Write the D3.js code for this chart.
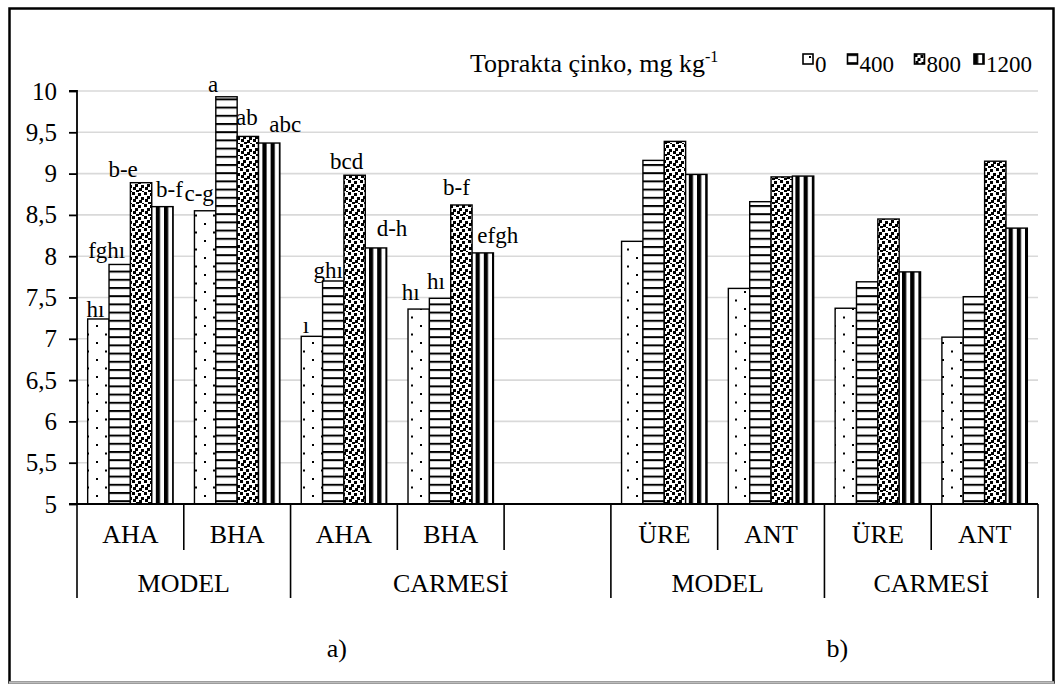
<!DOCTYPE html>
<html>
<head>
<meta charset="utf-8">
<script src="https://cdn.jsdelivr.net/npm/d3@7"></script>
<style>
  html, body { margin: 0; padding: 0; background: #fff; }
  svg { display: block; }
  text { font-family: "Liberation Serif", "Times New Roman", serif; fill: #000; }
</style>
</head>
<body>
<svg id="chart" width="1062" height="686"></svg>
<script>
// ---------- DATA ----------
const categories = ["AHA", "BHA", "AHA", "BHA", "", "ÜRE", "ANT", "ÜRE", "ANT"];
const groupLabels = ["MODEL", "CARMESİ", "MODEL", "CARMESİ"];
const groupStart = [0, 2, 5, 7];
const groupEnd = [2, 5, 7, 9];
const panelLabels = ["a)", "b)"];
const doses = ["0", "400", "800", "1200"];
const legendTitle = "Toprakta çinko, mg kg";
const legendSup = "-1";

const dose0    = [7.24, 8.55, 7.03, 7.36, null, 8.18, 7.61, 7.37, 7.02];
const dose400  = [7.90, 9.93, 7.70, 7.49, null, 9.16, 8.66, 7.69, 7.51];
const dose800  = [8.89, 9.45, 8.98, 8.62, null, 9.39, 8.96, 8.45, 9.15];
const dose1200 = [8.60, 9.37, 8.10, 8.04, null, 8.99, 8.97, 7.81, 8.34];

const letters0    = ["hı", "c-g", "ı", "hı"];
const letters400  = ["fghı", "a", "ghı", "hı"];
const letters800  = ["b-e", "ab", "bcd", "b-f"];
const letters1200 = ["b-f", "abc", "d-h", "efgh"];

const yTicks = [5, 5.5, 6, 6.5, 7, 7.5, 8, 8.5, 9, 9.5, 10];

// label nudges (layout only)
const nudgeX = [[-3, -6, -6, -8], [-13, -13.5, -5, -4], [-18, -1, -8, -5], [7, 16, 16, 15]];
const nudgeY = [[2, 9.5, 3, 9], [6, 5, 3, 9], [6, 11.7, 6, 10], [10, 11, 11.7, 10]];

// ---------- SETUP ----------
const series = [dose0, dose400, dose800, dose1200];
const letters = [letters0, letters400, letters800, letters1200];
const svg = d3.select("#chart");

const plot = { left: 77, right: 1038, top: 91, bottom: 504 };

const x = d3.scaleBand().domain(d3.range(categories.length)).range([plot.left, plot.right]).padding(0);
const xi = d3.scaleBand().domain(doses).range([0, x.bandwidth()]).paddingInner(0).paddingOuter(0.5);
const y = d3.scaleLinear().domain([5, 10]).range([plot.bottom, plot.top]);

const locale = d3.formatLocale({ decimal: ",", thousands: ".", grouping: [3], currency: ["", ""] });
const fmt = locale.format(".1~f");

// ---------- PATTERNS ----------
const defs = svg.append("defs");
const pats = [];
{
  const p = defs.append("pattern").attr("id", "p0").attr("patternUnits", "userSpaceOnUse")
    .attr("width", 18).attr("height", 17);
  p.append("rect").attr("width", 18).attr("height", 17).attr("fill", "#fff");
  p.append("rect").attr("x", 6).attr("y", 2).attr("width", 2).attr("height", 2).attr("fill", "#000");
  p.append("rect").attr("x", 15).attr("y", 10.5).attr("width", 2).attr("height", 2).attr("fill", "#000");
  pats.push("url(#p0)");
}
{
  const p = defs.append("pattern").attr("id", "p400").attr("patternUnits", "userSpaceOnUse")
    .attr("width", 8).attr("height", 8.2);
  p.append("rect").attr("width", 8).attr("height", 8.2).attr("fill", "#fff");
  p.append("rect").attr("x", 0).attr("y", 0).attr("width", 8).attr("height", 2).attr("fill", "#000");
  pats.push("url(#p400)");
}
{
  const p = defs.append("pattern").attr("id", "p800").attr("patternUnits", "userSpaceOnUse")
    .attr("width", 12).attr("height", 12);
  p.append("rect").attr("width", 12).attr("height", 12).attr("fill", "#fff");
  const sq = [[0, 0], [6, 1], [3, 4], [9, 5], [1, 7], [7, 8], [4, 10], [10, 11]];
  sq.forEach(([a, b]) => p.append("rect").attr("x", a).attr("y", b).attr("width", 3).attr("height", 3).attr("fill", "#000"));
  pats.push("url(#p800)");
}
{
  const p = defs.append("pattern").attr("id", "p1200").attr("patternUnits", "userSpaceOnUse")
    .attr("width", 8.2).attr("height", 8);
  p.append("rect").attr("width", 8.2).attr("height", 8).attr("fill", "#fff");
  p.append("rect").attr("x", 0).attr("y", 0).attr("width", 4.2).attr("height", 8).attr("fill", "#000");
  pats.push("url(#p1200)");
}

// ---------- FRAME ----------
svg.append("rect").attr("x", 9.5).attr("y", 8.5).attr("width", 1044).attr("height", 674)
  .attr("fill", "none").attr("stroke", "#000").attr("stroke-width", 2.5);
svg.append("line").attr("x1", 9).attr("x2", 1054).attr("y1", 682.5).attr("y2", 682.5)
  .attr("stroke", "#bdbdbd").attr("stroke-width", 2.5);

// ---------- GRID ----------
svg.append("g").selectAll("line").data(yTicks.slice(1)).join("line")
  .attr("x1", plot.left).attr("x2", plot.right)
  .attr("y1", d => y(d)).attr("y2", d => y(d))
  .attr("stroke", "#d9d9d9").attr("stroke-width", 1.6);

// ---------- BARS ----------
doses.forEach((dose, j) => {
  const data = series[j].map((v, i) => ({ i, v })).filter(d => d.v != null);
  svg.append("g").selectAll("rect").data(data).join("rect")
    .attr("x", d => x(d.i) + xi(dose))
    .attr("y", d => y(d.v))
    .attr("width", xi.bandwidth())
    .attr("height", d => y(5) - y(d.v))
    .attr("fill", pats[j])
    .attr("stroke", "#000").attr("stroke-width", 1.4);
});

// ---------- BAR LETTERS ----------
doses.forEach((dose, j) => {
  svg.append("g").selectAll("text").data(letters[j]).join("text")
    .attr("x", (d, i) => x(i) + xi(dose) + xi.bandwidth() / 2 + nudgeX[j][i])
    .attr("y", (d, i) => y(series[j][i]) - nudgeY[j][i])
    .attr("text-anchor", "middle")
    .attr("font-size", 23)
    .text(d => d);
});

// ---------- Y AXIS ----------
const yAxis = d3.axisLeft(y).tickValues(yTicks).tickFormat(fmt).tickSize(8).tickPadding(12);
const gy = svg.append("g").attr("transform", `translate(${plot.left},0)`).call(yAxis);
gy.select(".domain").attr("stroke", "#000").attr("stroke-width", 1.8).attr("d", `M-8,${y(10)}H0V${y(5)}`);
gy.selectAll(".tick line").attr("stroke", "#000").attr("stroke-width", 1.8);
gy.selectAll(".tick text").attr("font-size", 25).attr("font-family", '"Liberation Serif", "Times New Roman", serif').attr("fill", "#000");

// ---------- X AXIS (multi-level) ----------
const gx = svg.append("g");
gx.append("line").attr("x1", plot.left - 8).attr("x2", plot.right)
  .attr("y1", y(5)).attr("y2", y(5)).attr("stroke", "#000").attr("stroke-width", 1.8);
const bounds = d3.range(categories.length + 1);
const edge = i => (i < categories.length ? x(i) : x(categories.length - 1) + x.bandwidth());
const isGroupEdge = i => groupStart.includes(i) || groupEnd.includes(i);
gx.selectAll("line.sep").data(bounds).join("line").attr("class", "sep")
  .attr("x1", d => edge(d)).attr("x2", d => edge(d))
  .attr("y1", y(5)).attr("y2", d => isGroupEdge(d) ? 598 : 550)
  .attr("stroke", "#000").attr("stroke-width", 1.6);
gx.selectAll("text.cat").data(categories).join("text").attr("class", "cat")
  .attr("x", (d, i) => x(i) + x.bandwidth() / 2).attr("y", 543)
  .attr("text-anchor", "middle").attr("font-size", 26).text(d => d);
gx.selectAll("text.grp").data(groupLabels).join("text").attr("class", "grp")
  .attr("x", (d, k) => (edge(groupStart[k]) + edge(groupEnd[k])) / 2).attr("y", 592)
  .attr("text-anchor", "middle").attr("font-size", 26).text(d => d);

// panel labels
svg.selectAll("text.panel").data(panelLabels).join("text").attr("class", "panel")
  .attr("x", (d, k) => k === 0 ? (edge(0) + edge(5)) / 2 - 7 : (edge(5) + edge(9)) / 2 + 13)
  .attr("y", 657).attr("text-anchor", "middle").attr("font-size", 26).text(d => d);

// ---------- LEGEND ----------
const lt = svg.append("text").attr("x", 470).attr("y", 72).attr("font-size", 26);
lt.append("tspan").text(legendTitle);
lt.append("tspan").attr("dy", -10).attr("font-size", 16).text(legendSup);

const legX = [803, 847.5, 914.5, 974];
const lg = svg.append("g").selectAll("g").data(doses).join("g")
  .attr("transform", (d, j) => `translate(${legX[j]},54)`);
lg.append("rect").attr("width", 10).attr("height", 10)
  .attr("fill", (d, j) => pats[j]).attr("stroke", "#000").attr("stroke-width", 1.6);
lg.append("text").attr("x", 12).attr("y", 18).attr("font-size", 23).text(d => d);
</script>
</body>
</html>
